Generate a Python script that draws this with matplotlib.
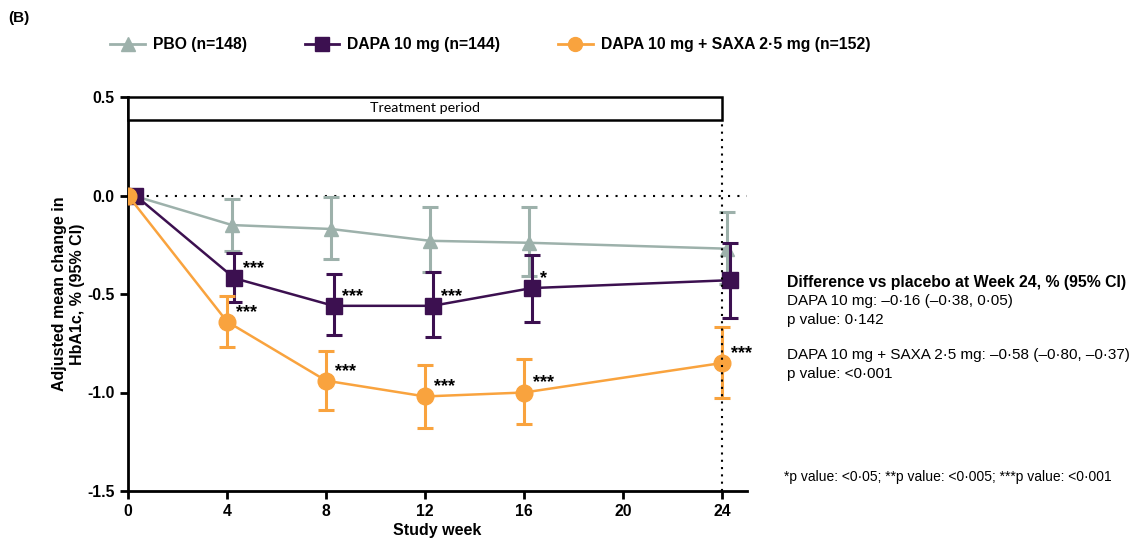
import matplotlib
matplotlib.use("Agg")
import matplotlib.pyplot as plt
from matplotlib.patches import Rectangle
from matplotlib.lines import Line2D
import numpy as np

plt.rcParams['font.family'] = ['Liberation Sans', 'DejaVu Sans']

weeks = [0, 4, 8, 12, 16, 24]

pbo_mean = [0.0, -0.15, -0.17, -0.23, -0.24, -0.27]
pbo_lo = [0.0, -0.28, -0.32, -0.39, -0.41, -0.45]
pbo_hi = [0.0, -0.02, -0.01, -0.06, -0.06, -0.085]

dapa_mean = [0.0, -0.42, -0.56, -0.56, -0.47, -0.43]
dapa_lo = [0.0, -0.54, -0.71, -0.72, -0.64, -0.62]
dapa_hi = [0.0, -0.29, -0.40, -0.39, -0.30, -0.24]

saxa_mean = [0.0, -0.64, -0.94, -1.02, -1.00, -0.85]
saxa_lo = [0.0, -0.77, -1.09, -1.18, -1.16, -1.03]
saxa_hi = [0.0, -0.51, -0.79, -0.86, -0.83, -0.67]

dapa_sig = ['', '***', '***', '***', '*', '']
saxa_sig = ['', '***', '***', '***', '***', '***']

labels = ['PBO (n=148)', 'DAPA 10 mg (n=144)', 'DAPA 10 mg + SAXA 2\u00b75 mg (n=152)']
colors = ['#9DB1AB', '#3C1050', '#F9A33E']

fig = plt.figure(figsize=(11.45, 5.38), dpi=100)
ax = fig.add_axes([128/1145, 1-491/538, (747-128)/1145, (491-97)/538])

def draw(off, mean, lo, hi, color, marker, ms, z):
    x = np.array(weeks, dtype=float) + off
    m = np.array(mean); l = np.array(lo); h = np.array(hi)
    yerr = [m - l, h - m]
    ax.errorbar(x[1:], m[1:], yerr=[yerr[0][1:], yerr[1][1:]], fmt='none',
                ecolor=color, elinewidth=2.2, capsize=6, capthick=2.2, zorder=z)
    ax.plot(x, m, color=color, lw=1.8, marker=marker, ms=ms,
            mec=color, mfc=color, zorder=z + 0.5)
    return x

x_p = draw(0.2, pbo_mean, pbo_lo, pbo_hi, colors[0], '^', 10, 3)
x_d = draw(0.3, dapa_mean, dapa_lo, dapa_hi, colors[1], 's', 11, 4)
x_s = draw(0.0, saxa_mean, saxa_lo, saxa_hi, colors[2], 'o', 12, 5)

for xi, yi, s in zip(x_d, dapa_mean, dapa_sig):
    if s:
        ax.text(xi + 0.35, yi + 0.005, s, fontsize=13, fontweight='bold',
                ha='left', va='bottom', zorder=8)
for xi, yi, s in zip(x_s, saxa_mean, saxa_sig):
    if s:
        ax.text(xi + 0.35, yi + 0.005, s, fontsize=13, fontweight='bold',
                ha='left', va='bottom', zorder=8)

ax.set_xlim(0, 25)
ax.set_ylim(-1.5, 0.5)
ax.set_xticks([0, 4, 8, 12, 16, 20, 24])
ax.set_yticks([-1.5, -1.0, -0.5, 0.0, 0.5])
ax.set_yticklabels(['-1.5', '-1.0', '-0.5', '0.0', '0.5'])
for s in ['top', 'right']:
    ax.spines[s].set_visible(False)
for s in ['left', 'bottom']:
    ax.spines[s].set_linewidth(2)
ax.tick_params(width=2, length=6, labelsize=11.3)
for t in ax.get_xticklabels() + ax.get_yticklabels():
    t.set_fontweight('bold')
ax.set_xlabel('Study week', fontsize=11.5, fontweight='bold', labelpad=3)
ax.set_ylabel('Adjusted mean change in\nHbA1c, % (95% CI)', fontsize=11.5,
              fontweight='bold', labelpad=2)

# reference lines
ax.plot([0, 25], [0, 0], color='black', lw=1.5, ls=(0, (1, 3.5)), zorder=2)
ax.plot([24, 24], [-1.5, 0.385], color='black', lw=1.5, ls=(0, (1, 2.5)), zorder=9)

# treatment period box
ax.add_patch(Rectangle((0, 0.385), 24, 0.115, facecolor='white', edgecolor='black',
                       lw=1.8, zorder=6, clip_on=False))
ax.text(12, 0.443, 'Treatment period', ha='center', va='center', fontsize=10.3,
        family='Lato', zorder=7)

# legend
handles = []
mk = ['^', 's', 'o']
for c, m in zip(colors, mk):
    handles.append(Line2D([0], [0], color=c, lw=2, marker=m, ms=10, mfc=c, mec=c))
leg = fig.legend(handles, labels, loc='center left', bbox_to_anchor=(104/1145, 1-45/538),
                 ncol=3, frameon=False, fontsize=11.3, columnspacing=3.7,
                 handlelength=2.2, handletextpad=0.5, borderaxespad=0)
for t in leg.get_texts():
    t.set_fontweight('bold')

fig.text(8/1145, 1-18/538, '(B)', fontsize=11, fontweight='bold', va='center', ha='left')

tx = 787/1145
fig.text(tx, 1-282/538, 'Difference vs placebo at Week 24, % (95% CI)', fontsize=11.4,
         fontweight='bold', va='center', ha='left')
fig.text(tx, 1-301/538, 'DAPA 10 mg: \u20130\u00b716 (\u20130\u00b738, 0\u00b705)', fontsize=11,
         va='center', ha='left')
fig.text(tx, 1-320/538, 'p value: 0\u00b7142', fontsize=11, va='center', ha='left')
fig.text(tx, 1-355/538, 'DAPA 10 mg + SAXA 2\u00b75 mg: \u20130\u00b758 (\u20130\u00b780, \u20130\u00b737)',
         fontsize=11, va='center', ha='left')
fig.text(tx, 1-374/538, 'p value: <0\u00b7001', fontsize=11, va='center', ha='left')
fig.text(784/1145, 1-477/538,
         '*p value: <0\u00b705; **p value: <0\u00b7005; ***p value: <0\u00b7001',
         fontsize=10, va='center', ha='left')

fig.savefig('out.png', dpi=100)
